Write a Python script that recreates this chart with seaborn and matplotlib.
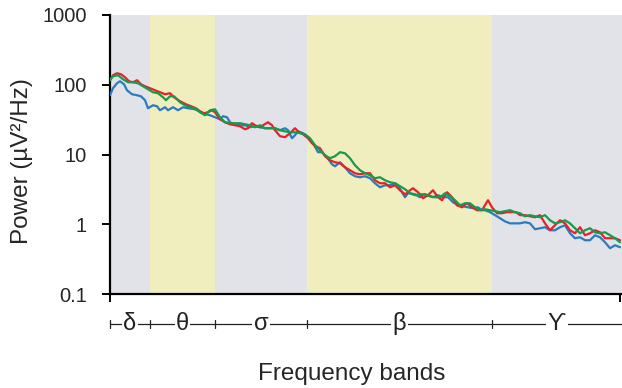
import matplotlib
matplotlib.use("Agg")
import matplotlib.pyplot as plt
import matplotlib.transforms as mtransforms
import numpy as np
import pandas as pd
import seaborn as sns

# ---------------- data ----------------
band_names = ["δ", "θ", "σ", "β", "ϒ"]
band_edges = [0.0, 4.0, 10.5, 19.7, 38.2, 51.2]
band_colors = ["#e2e3e8", "#f0edbe", "#e2e3e8", "#f0edbe", "#e2e3e8"]

y_ticks = [0.1, 1, 10, 100, 1000]
y_tick_labels = ["0.1", "1", "10", "100", "1000"]

freq_red = [0.0, 0.3, 0.7, 1.1, 1.5, 1.9, 2.3, 2.7, 3.1, 3.5, 4.0, 4.5, 5.0, 5.5, 6.0, 6.4,
            7.0, 7.6, 8.1, 8.6, 9.0, 9.4, 9.8, 10.2, 10.5, 11.0, 11.5, 12.0, 12.5, 13.0, 13.5,
            13.8, 14.2, 14.5, 15.0, 15.3, 15.8, 16.2, 16.5, 17.0, 17.5, 18.0, 18.5, 18.8, 19.3,
            19.8, 20.2, 20.6, 21.0, 21.5, 22.0, 22.5, 23.0, 23.5, 24.0, 24.5, 25.0, 25.5, 26.0,
            26.5, 27.0, 27.5, 28.0, 28.5, 29.0, 29.5, 29.8, 30.0, 30.3, 30.8, 31.3, 31.8, 32.3,
            32.8, 33.2, 33.7, 34.2, 34.7, 35.2, 35.7, 36.2, 36.7, 37.2, 37.8, 38.2, 38.7, 39.2,
            39.7, 40.2, 40.6, 41.0, 41.5, 42.0, 42.5, 43.0, 43.5, 44.0, 44.5, 45.0, 45.5, 46.0,
            46.5, 47.0, 47.5, 48.0, 48.5, 49.0, 49.5, 50.0, 50.5, 51.0]
power_red = [116.0, 136.9, 146.2, 141.4, 128.1, 112.2, 108.6, 116.0, 101.7, 95.2, 89.1, 83.4,
             78.1, 73.1, 75.5, 66.2, 58.0, 52.5, 49.2, 46.0, 41.7, 39.0, 40.3, 43.1, 40.3, 32.0,
             29.0, 27.1, 26.3, 25.4, 23.0, 23.8, 28.1, 26.3, 24.6, 26.3, 29.0, 26.3, 22.3, 18.3,
             17.7, 20.2, 23.8, 21.5, 19.5, 17.1, 14.5, 13.1, 12.3, 9.44, 8.27, 7.74, 7.49, 6.56,
             5.95, 5.38, 5.21, 5.38, 5.38, 4.27, 3.87, 3.87, 3.39, 3.62, 3.07, 2.69, 2.88, 3.07,
             3.28, 2.88, 2.36, 2.61, 3.07, 2.44, 2.21, 2.88, 2.44, 1.87, 1.75, 2.00, 1.75, 1.59,
             1.59, 2.21, 1.75, 1.44, 1.44, 1.49, 1.49, 1.49, 1.35, 1.35, 1.30, 1.26, 1.35, 1.03,
             0.820, 0.968, 1.14, 1.03, 0.820, 0.743, 0.906, 0.696, 0.743, 0.820, 0.768, 0.630,
             0.630, 0.630, 0.590]

freq_green = [0.0, 0.3, 0.8, 1.3, 1.8, 2.3, 2.8, 3.3, 3.8, 4.3, 4.8, 5.3, 5.6, 6.0, 6.4, 7.0,
              7.5, 8.0, 8.5, 9.0, 9.5, 10.0, 10.5, 11.0, 11.5, 12.0, 12.5, 13.0, 13.5, 14.0,
              14.5, 15.0, 15.5, 16.0, 16.5, 17.0, 17.5, 18.0, 18.5, 19.0, 19.5, 20.0, 20.5, 21.0,
              21.5, 22.0, 22.5, 23.0, 23.5, 24.0, 24.5, 25.0, 25.5, 26.0, 26.5, 27.0, 27.5, 28.0,
              28.5, 29.0, 29.5, 30.0, 30.5, 31.0, 31.5, 32.0, 32.5, 33.0, 33.5, 34.0, 34.5, 35.0,
              35.5, 36.0, 36.5, 37.0, 37.5, 38.0, 38.5, 39.0, 39.5, 40.0, 40.5, 41.0, 41.5, 42.0,
              42.5, 43.0, 43.5, 44.0, 44.5, 45.0, 45.5, 46.0, 46.5, 47.0, 47.5, 48.0, 48.5, 49.0,
              49.5, 50.0, 50.5, 51.0]
power_green = [116.0, 132.4, 136.9, 119.9, 108.6, 108.6, 105.1, 95.2, 86.2, 78.1, 75.5, 66.2,
               60.0, 68.4, 68.4, 56.1, 50.8, 47.6, 46.0, 40.3, 36.5, 43.1, 44.5, 34.2, 29.0, 28.1,
               28.1, 28.1, 27.1, 26.3, 24.6, 26.3, 23.8, 23.8, 23.8, 22.3, 21.5, 20.8, 20.8, 20.2,
               19.5, 17.1, 13.6, 11.5, 9.76, 8.84, 9.44, 10.8, 10.4, 8.84, 7.01, 5.95, 5.38, 5.04,
               4.57, 4.72, 4.27, 4.00, 3.87, 3.51, 3.18, 2.78, 2.61, 2.69, 2.69, 2.52, 2.44, 2.44,
               2.78, 2.52, 2.21, 1.87, 2.00, 2.00, 1.75, 1.59, 1.64, 1.59, 1.54, 1.49, 1.54, 1.59,
               1.49, 1.44, 1.30, 1.35, 1.30, 1.26, 1.35, 1.14, 1.03, 1.07, 1.14, 1.03, 0.876,
               0.743, 0.820, 0.876, 0.768, 0.743, 0.768, 0.696, 0.630, 0.552]

freq_blue = [0.0, 0.3, 0.7, 1.0, 1.4, 1.7, 2.2, 2.7, 3.1, 3.5, 3.8, 4.3, 4.7, 5.0, 5.5, 5.8,
             6.3, 6.8, 7.3, 7.8, 8.5, 9.3, 10.0, 10.5, 11.0, 11.3, 11.7, 12.0, 12.5, 13.0, 13.5,
             14.0, 14.5, 15.0, 15.5, 16.0, 16.5, 17.0, 17.5, 17.8, 18.2, 18.5, 18.8, 19.3, 19.8,
             20.3, 20.8, 21.2, 21.7, 22.2, 22.5, 23.0, 23.5, 24.0, 24.5, 25.0, 25.5, 26.0, 26.5,
             27.0, 27.5, 28.0, 28.5, 28.8, 29.2, 29.5, 29.8, 30.0, 30.5, 31.0, 31.5, 32.0, 32.3,
             32.8, 33.3, 33.8, 34.3, 34.8, 35.3, 35.8, 36.3, 36.8, 37.2, 37.5, 38.0, 38.5, 39.0,
             39.5, 40.0, 40.5, 41.0, 41.5, 42.0, 42.5, 43.0, 43.5, 44.0, 44.5, 45.0, 45.5, 46.0,
             46.5, 47.0, 47.5, 48.0, 48.5, 49.0, 49.5, 50.0, 50.5, 51.0]
power_blue = [70.7, 89.1, 105.1, 112.2, 101.7, 83.4, 73.1, 70.7, 68.4, 60.0, 46.0, 50.8, 49.2,
              43.1, 47.6, 43.1, 47.6, 43.1, 47.6, 46.0, 44.5, 39.0, 36.5, 34.2, 32.0, 35.4, 34.2,
              29.0, 27.1, 26.3, 26.3, 24.6, 25.4, 24.6, 23.8, 23.8, 23.8, 22.3, 23.8, 22.3, 17.1,
              18.9, 21.5, 20.2, 17.7, 14.5, 10.8, 10.8, 9.13, 7.25, 6.78, 7.74, 6.56, 5.38, 4.88,
              4.72, 4.88, 4.57, 3.87, 3.39, 3.62, 3.62, 3.87, 3.62, 2.88, 2.44, 2.78, 2.78, 2.69,
              2.44, 2.69, 2.52, 2.44, 2.61, 2.44, 2.44, 2.07, 1.87, 1.81, 1.75, 1.70, 1.75, 1.59,
              1.59, 1.49, 1.35, 1.22, 1.10, 1.03, 1.03, 1.03, 1.07, 1.03, 0.848, 0.876, 0.906,
              0.820, 0.820, 0.906, 0.968, 0.743, 0.630, 0.651, 0.590, 0.590, 0.696, 0.651, 0.552,
              0.453, 0.500, 0.468]

series_names = ["blue", "red", "green"]
series_colors = {"blue": "#2b7bbf", "red": "#e8202a", "green": "#179b4b"}

# ---------------- figure ----------------
sns.set_style("ticks")
plt.rcParams["font.family"] = ["Liberation Sans", "DejaVu Sans"]

df = pd.concat([
    pd.DataFrame({"freq": freq_blue, "power": power_blue, "series": "blue"}),
    pd.DataFrame({"freq": freq_red, "power": power_red, "series": "red"}),
    pd.DataFrame({"freq": freq_green, "power": power_green, "series": "green"}),
], ignore_index=True)

fig = plt.figure(figsize=(6.22, 3.88), dpi=100)
ax = fig.add_axes([110 / 622, 1 - 294 / 388, 512 / 622, 279 / 388])

for i in range(len(band_names)):
    ax.axvspan(band_edges[i], band_edges[i + 1], color=band_colors[i], lw=0, zorder=0)

sns.lineplot(data=df, x="freq", y="power", hue="series", hue_order=series_names,
             palette=series_colors, estimator=None, sort=False, linewidth=1.6,
             legend=False, ax=ax, zorder=3)

ax.set_yscale("log")
ax.set_ylim(0.1, 1000)
ax.set_xlim(band_edges[0], band_edges[-1])
ax.set_yticks(y_ticks)
ax.set_yticklabels(y_tick_labels)
ax.yaxis.set_minor_locator(matplotlib.ticker.NullLocator())
ax.set_xticks([band_edges[0], 51.0])
ax.set_xticklabels([])
ax.tick_params(axis="both", which="major", direction="out", length=6, width=1.4,
               color="black", labelsize=14.5, pad=10.5)
ax.tick_params(axis="x", pad=2)

for s in ["top", "right"]:
    ax.spines[s].set_visible(False)
for s in ["left", "bottom"]:
    ax.spines[s].set_linewidth(1.6)
    ax.spines[s].set_color("black")

ax.set_ylabel("Power (µV²/Hz)", fontsize=17.5, va="center")
ax.yaxis.set_label_coords(-0.172, 0.477)
ax.set_xlabel("Frequency bands", fontsize=17.5, va="center")
ax.xaxis.set_label_coords(0.4727, -0.287)

# band axis below the plot
trans = mtransforms.blended_transform_factory(ax.transData, ax.transAxes)
band_y = -0.1075
ax.plot([band_edges[0], band_edges[-1]], [band_y, band_y], color="#222222", lw=0.9,
        transform=trans, clip_on=False, zorder=1)
for e in band_edges[:-1]:
    ax.plot([e, e], [band_y - 0.014, band_y + 0.014], color="#222222", lw=0.9,
            transform=trans, clip_on=False)
for i, name in enumerate(band_names):
    xc = (band_edges[i] + band_edges[i + 1]) / 2
    ax.text(xc, band_y, name, transform=trans, ha="center", va="center", fontsize=17,
            color="#222222", zorder=2,
            bbox=dict(facecolor="white", edgecolor="none", pad=1.0),
            family=["Liberation Sans", "DejaVu Sans"])

fig.savefig("out.png", dpi=100)
